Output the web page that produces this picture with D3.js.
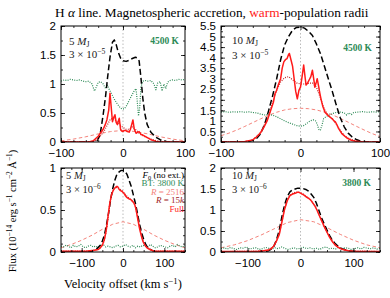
<!DOCTYPE html>
<html>
<head>
<meta charset="utf-8">
<script src="https://d3js.org/d3.v7.min.js"></script>
<style>
  body { margin: 0; background: #fff; }
  svg { display: block; font-family: "Liberation Serif", "Times New Roman", serif; }
</style>
</head>
<body>
<svg width="390" height="298"></svg>
<script>
// ---- data (velocity km/s, flux 1e-14 erg/s/cm2/A) ----
// top left: 5 MJ, 3e-5
var tlF0 = [[-100,0],[-50,0],[-42,0.02],[-37,0.12],[-32,0.47],[-28,0.8],[-25,1.1],[-21,1.46],[-17,1.72],[-14,1.76],[-11,1.68],[-8,1.56],[-4,1.45],[0,1.4],[5,1.39],[10,1.41],[15,1.44],[20,1.46],[23,1.45],[26,1.4],[29,1.1],[32,0.75],[35,0.5],[39,0.3],[45,0.17],[52,0.09],[60,0.04],[70,0.01],[80,0],[100,0]];
var tlFull = [[-100,0],[-55,0],[-48,0.02],[-44,0.06],[-40,0.1],[-36,0.16],[-32,0.22],[-29,0.29],[-26,0.38],[-23,0.55],[-21,0.84],[-19,0.6],[-17,0.35],[-15,0.42],[-13,0.47],[-11,0.34],[-9,0.3],[-7,0.38],[-6,0.41],[-4,0.22],[-2,0.19],[0,0.18],[2,0.2],[4,0.2],[7,0.18],[10,0.17],[12,0.22],[14,0.3],[16,0.38],[18,0.23],[21,0.15],[24,0.17],[26,0.18],[29,0.13],[32,0.12],[35,0.1],[37,0.09],[40,0.07],[42,0.06],[45,0.04],[48,0.03],[53,0.01],[60,0],[100,0]];
var tl15k = [[-100,0],[-50,0],[-40,0.05],[-30,0.2],[-25,0.3],[-20,0.4],[-15,0.4],[-10,0.35],[-5,0.3],[0,0.25],[5,0.22],[10,0.22],[15,0.26],[20,0.22],[25,0.16],[30,0.12],[40,0.07],[50,0.03],[60,0.01],[70,0],[100,0]];
var tl2516 = [[-100,0.02],[-80,0.05],[-60,0.09],[-40,0.14],[-20,0.18],[0,0.2],[20,0.18],[40,0.14],[60,0.09],[80,0.05],[100,0.02]];
var tlBT = [[-100,1.05],[-95,1.07],[-90,1.06],[-85,1.08],[-80,1.07],[-75,1.06],[-70,1.07],[-65,1.05],[-60,1.04],[-55,1.05],[-50,1.0],[-46,0.88],[-43,0.95],[-40,1.03],[-36,1.04],[-32,1.0],[-28,0.92],[-25,0.98],[-22,0.9],[-18,0.82],[-14,0.74],[-10,0.67],[-6,0.61],[-2,0.57],[2,0.57],[6,0.63],[10,0.72],[14,0.8],[18,0.88],[21,0.92],[23,0.7],[25,0.45],[27,0.6],[29,0.95],[32,1.05],[36,1.06],[40,1.05],[45,1.06],[50,1.0],[53,0.9],[56,1.02],[60,1.04],[63,0.88],[66,1.0],[69,0.92],[72,1.03],[76,1.06],[80,1.07],[85,1.06],[90,1.08],[95,1.07],[100,1.08]];

// top right: 10 MJ, 3e-5
var trF0 = [[-100,0],[-75,0],[-65,0.03],[-60,0.08],[-55,0.18],[-50,0.4],[-45,0.85],[-40,1.5],[-35,2.2],[-30,3.0],[-25,3.9],[-20,4.6],[-15,5.0],[-10,5.3],[-5,5.43],[0,5.45],[5,5.4],[10,5.25],[15,5.05],[20,4.65],[25,4.2],[30,3.6],[35,3.0],[40,2.4],[45,1.75],[50,1.15],[55,0.72],[60,0.42],[65,0.24],[70,0.12],[75,0.05],[80,0.02],[90,0],[100,0]];
var trFull = [[-100,0],[-80,0],[-70,0.02],[-60,0.1],[-55,0.25],[-50,0.45],[-46,0.7],[-42,1.0],[-38,1.45],[-34,1.9],[-32,2.3],[-30,2.45],[-28,2.7],[-25,3.0],[-23,3.5],[-21,3.8],[-19,3.9],[-17,3.95],[-15,4.15],[-14,4.2],[-12,3.9],[-10,3.6],[-8,3.0],[-6,2.4],[-4,2.05],[-2,2.45],[0,2.6],[2,3.1],[4,3.65],[6,3.0],[7,2.7],[9,2.8],[11,2.95],[13,3.1],[15,3.4],[17,2.9],[18,2.6],[20,2.85],[21,3.0],[23,2.6],[24,2.37],[26,2.0],[28,1.7],[31,1.4],[35,1.25],[38,1.15],[40,1.1],[42,1.0],[44,0.95],[46,0.8],[48,0.63],[52,0.4],[58,0.2],[64,0.08],[70,0.03],[80,0],[100,0]];
var tr15k = [[-100,0],[-70,0.02],[-60,0.1],[-50,0.45],[-40,1.25],[-35,1.9],[-30,2.45],[-25,2.85],[-20,3.05],[-15,3.1],[-10,2.95],[-5,2.8],[0,2.75],[5,2.75],[10,2.78],[15,2.8],[20,2.6],[25,2.1],[30,1.55],[35,1.25],[40,1.1],[45,0.85],[50,0.55],[55,0.32],[60,0.17],[70,0.04],[80,0],[100,0]];
var tr2516 = [[-100,0.3],[-90,0.42],[-80,0.57],[-70,0.74],[-60,0.92],[-50,1.1],[-40,1.27],[-30,1.41],[-20,1.52],[-10,1.58],[0,1.6],[10,1.58],[20,1.52],[30,1.42],[40,1.29],[50,1.12],[60,0.94],[70,0.75],[80,0.57],[90,0.4],[100,0.26]];
var trBT = [[-100,1.42],[-95,1.44],[-90,1.41],[-85,1.43],[-80,1.42],[-75,1.44],[-70,1.41],[-65,1.43],[-60,1.4],[-55,1.38],[-50,1.32],[-45,1.28],[-40,1.3],[-35,1.27],[-30,1.2],[-25,1.1],[-20,1.0],[-15,0.92],[-10,0.85],[-5,0.78],[0,0.75],[4,0.78],[8,0.88],[12,1.0],[16,1.05],[19,1.0],[21,0.85],[23,0.6],[25,0.55],[27,0.8],[29,1.1],[32,1.2],[36,1.28],[40,1.35],[45,1.4],[50,1.42],[55,1.38],[58,1.28],[61,1.38],[64,1.3],[67,1.4],[72,1.42],[78,1.44],[84,1.41],[90,1.43],[95,1.42],[100,1.44]];

// bottom left: 5 MJ, 3e-6
var blF0 = [[-150,0],[-90,0],[-75,0.01],[-65,0.03],[-55,0.08],[-50,0.13],[-45,0.2],[-40,0.32],[-35,0.46],[-30,0.62],[-25,0.75],[-20,0.85],[-15,0.92],[-10,0.95],[-5,0.97],[0,0.97],[5,0.96],[10,0.92],[15,0.85],[20,0.78],[25,0.68],[30,0.58],[35,0.46],[40,0.33],[45,0.23],[50,0.15],[55,0.09],[60,0.05],[70,0.02],[80,0],[150,0]];
var blFull = [[-150,0.01],[-90,0.01],[-70,0.02],[-60,0.03],[-55,0.05],[-50,0.08],[-45,0.15],[-42,0.22],[-38,0.35],[-35,0.47],[-32,0.58],[-28,0.68],[-24,0.73],[-20,0.76],[-16,0.78],[-13,0.78],[-10,0.75],[-6,0.73],[-2,0.72],[2,0.7],[6,0.67],[9,0.65],[12,0.64],[16,0.63],[20,0.62],[24,0.6],[28,0.57],[31,0.52],[34,0.44],[37,0.36],[40,0.28],[44,0.2],[48,0.13],[53,0.08],[58,0.05],[65,0.03],[75,0.01],[150,0.01]];
var bl15k = [[-150,0.01],[-90,0.01],[-70,0.02],[-60,0.03],[-50,0.08],[-45,0.14],[-40,0.27],[-35,0.45],[-30,0.62],[-25,0.72],[-20,0.76],[-15,0.77],[-10,0.76],[-5,0.74],[0,0.72],[5,0.69],[10,0.66],[15,0.64],[20,0.62],[25,0.59],[30,0.54],[35,0.43],[40,0.3],[45,0.19],[50,0.11],[55,0.07],[65,0.03],[75,0.01],[150,0.01]];
var bl2516 = [[-150,0.05],[-125,0.09],[-100,0.14],[-75,0.2],[-50,0.27],[-25,0.33],[0,0.36],[25,0.33],[50,0.27],[75,0.2],[100,0.14],[125,0.09],[150,0.05]];
var blBT = [0.07,0.06,0.08,0.07,0.05,0.08,0.06,0.07,0.09,0.06,0.05,0.07,0.08,0.06,0.07,0.05,0.08,0.09,0.06,0.07,0.06,0.05,0.07,0.08,0.06,0.07,0.09,0.07,0.06,0.08,0.05,0.07,0.06,0.08,0.07,0.06,0.09,0.07,0.05,0.06,0.08,0.07,0.06,0.05,0.07,0.08,0.06,0.09,0.07,0.06,0.08];

// bottom right: 10 MJ, 3e-6
var brF0 = [[-150,0],[-80,0],[-70,0.01],[-60,0.03],[-55,0.07],[-50,0.14],[-45,0.3],[-40,0.52],[-35,0.85],[-30,1.12],[-25,1.32],[-20,1.43],[-15,1.48],[-10,1.5],[-5,1.52],[0,1.52],[5,1.51],[10,1.49],[15,1.45],[20,1.38],[25,1.3],[30,1.16],[35,0.98],[40,0.8],[45,0.66],[50,0.52],[55,0.39],[60,0.28],[65,0.21],[70,0.15],[75,0.1],[80,0.07],[90,0.03],[100,0.01],[110,0],[150,0]];
var brFull = [[-150,0.01],[-100,0.01],[-80,0.02],[-70,0.03],[-60,0.05],[-55,0.08],[-50,0.15],[-45,0.27],[-40,0.42],[-35,0.72],[-30,1.02],[-25,1.22],[-20,1.34],[-15,1.38],[-10,1.4],[-6,1.42],[-3,1.42],[0,1.4],[3,1.38],[6,1.36],[9,1.33],[12,1.3],[15,1.28],[19,1.24],[23,1.17],[27,1.1],[31,1.0],[35,0.88],[40,0.74],[45,0.6],[50,0.47],[55,0.35],[60,0.25],[65,0.17],[70,0.12],[75,0.08],[80,0.06],[90,0.03],[100,0.02],[150,0.01]];
var br15k = [[-150,0.01],[-80,0.02],[-70,0.03],[-60,0.05],[-50,0.15],[-45,0.28],[-40,0.45],[-35,0.74],[-30,1.03],[-25,1.24],[-20,1.35],[-15,1.4],[-10,1.42],[-5,1.43],[0,1.41],[5,1.38],[10,1.33],[15,1.29],[20,1.23],[25,1.14],[30,1.03],[35,0.89],[40,0.75],[45,0.61],[50,0.48],[55,0.36],[60,0.26],[65,0.18],[70,0.12],[80,0.06],[90,0.03],[150,0.01]];
var br2516 = [[-150,0.1],[-125,0.17],[-100,0.27],[-75,0.4],[-50,0.55],[-25,0.7],[0,0.77],[25,0.72],[50,0.58],[75,0.42],[100,0.28],[125,0.17],[150,0.1]];
var brBT = [0.08,0.1,0.07,0.11,0.08,0.06,0.1,0.09,0.12,0.07,0.09,0.1,0.06,0.08,0.11,0.09,0.07,0.1,0.08,0.12,0.09,0.06,0.08,0.1,0.07,0.09,0.11,0.08,0.1,0.07,0.09,0.06,0.1,0.12,0.08,0.09,0.07,0.11,0.08,0.1,0.09,0.06,0.08,0.1,0.07,0.11,0.09,0.08,0.1,0.07,0.09];
var btVel = d3.range(-150, 151, 6);  // velocity grid of the noisy 3800 K spectra

var xTicksTop = [-100, 0, 100];
var xTicksBottom = [-100, 0, 100];
var yTicksTL = [0, 0.5, 1, 1.5, 2];
var yTicksTR = [0, 0.5, 1, 1.5, 2, 2.5, 3, 3.5, 4, 4.5, 5, 5.5];
var yTicksBL = [0, 0.5, 1];
var yTicksBR = [0, 0.5, 1, 1.5, 2];

// ---- styles ----
var C = {
  full: "#ff1a1a", r15k: "#c02020", r2516: "#f4847c",
  bt: "#2e8b57", f0: "#000000", zero: "#bbbbbb"
};

var svg = d3.select("svg");
var fmt = d3.format("~g");

function rich(sel, parts, fs) {
  // parts: [text, kind] kind: undefined | "sup" | "sub" | "it"
  var dy = 0;
  parts.forEach(function(p) {
    var t = sel.append("tspan").text(p[0]);
    var shift = 0;
    if (p[1] == "sup") shift = -fs * 0.35;
    if (p[1] == "sub") shift = fs * 0.2;
    if (p[1] == "it") t.attr("font-style", "italic");
    if (p[1] == "sup" || p[1] == "sub") t.attr("font-size", fs * 0.7);
    t.attr("dy", shift - dy);
    dy = shift;
  });
  return sel;
}

var panels = [
  { id: "tl", x0: 61, x1: 185, y0: 26, y1: 142, xd: [-100, 100], yd: [0, 2],
    xt: xTicksTop, xm: 20, yt: yTicksTL, ym: 0.25,
    f0: tlF0, full: tlFull, r15k: tl15k, r2516: tl2516, bt: tlBT,
    mass: "5", acc: "−5", temp: "4500 K", fs: 11,
    massPos: [8, 19], accPos: [8, 32], tempPos: [-6, 18] },
  { id: "tr", x0: 221, x1: 380, y0: 26, y1: 142, xd: [-100, 100], yd: [0, 5.5],
    xt: xTicksTop, xm: 20, yt: yTicksTR, ym: 0.25,
    f0: trF0, full: trFull, r15k: tr15k, r2516: tr2516, bt: trBT,
    mass: "10", acc: "−5", temp: "4500 K", fs: 11,
    massPos: [11, 18], accPos: [11, 33], tempPos: [-8, 25] },
  { id: "bl", x0: 61, x1: 185, y0: 168, y1: 252, xd: [-150, 150], yd: [0, 1],
    xt: xTicksBottom, xm: 25, yt: yTicksBL, ym: 0.1,
    f0: blF0, full: blFull, r15k: bl15k, r2516: bl2516, bt: btVel.map(function(v, i) { return [v, blBT[i]]; }),
    mass: "5", acc: "−6", temp: null, fs: 10.5,
    massPos: [5, 11], accPos: [5, 24.5] },
  { id: "br", x0: 221, x1: 380, y0: 168, y1: 252, xd: [-150, 150], yd: [0, 2],
    xt: xTicksBottom, xm: 25, yt: yTicksBR, ym: 0.25,
    f0: brF0, full: brFull, r15k: br15k, r2516: br2516, bt: btVel.map(function(v, i) { return [v, brBT[i]]; }),
    mass: "10", acc: "−6", temp: "3800 K", fs: 10.5,
    massPos: [11, 11], accPos: [11, 24.5], tempPos: [-9, 18] }
];

var defs = svg.append("defs");

panels.forEach(function(p) {
  var x = d3.scaleLinear().domain(p.xd).range([p.x0, p.x1]);
  var y = d3.scaleLinear().domain(p.yd).range([p.y1, p.y0]);
  var g = svg.append("g");

  defs.append("clipPath").attr("id", "clip-" + p.id)
    .append("rect").attr("x", p.x0).attr("y", p.y0)
    .attr("width", p.x1 - p.x0).attr("height", p.y1 - p.y0);

  var plot = g.append("g").attr("clip-path", "url(#clip-" + p.id + ")");

  plot.append("line")
    .attr("x1", x(0)).attr("x2", x(0)).attr("y1", p.y0).attr("y2", p.y1)
    .attr("stroke", C.zero).attr("stroke-width", 1).attr("stroke-dasharray", "1.5,2");

  var line = d3.line().x(function(d) { return x(d[0]); }).y(function(d) { return y(d[1]); });

  var series = [
    { d: p.r2516, c: C.r2516, w: 1, dash: "3.5,2.5" },
    { d: p.bt, c: C.bt, w: 1.2, dash: "1,1.3" },
    { d: p.f0, c: C.f0, w: 1.5, dash: "6,3" },
    { d: p.r15k, c: C.r15k, w: 1.2, dash: "1,1.3" },
    { d: p.full, c: C.full, w: 1.5, dash: null }
  ];
  series.forEach(function(s) {
    plot.append("path").datum(s.d).attr("d", line)
      .attr("fill", "none").attr("stroke", s.c).attr("stroke-width", s.w)
      .attr("stroke-dasharray", s.dash).attr("stroke-linejoin", "round");
  });

  // ticks (inward, all four sides)
  var xMinor = d3.range(p.xd[0], p.xd[1] + 0.001, p.xm);
  var yMinor = d3.range(p.yd[0], p.yd[1] + 0.0001, p.ym);

  var axB = g.append("g").attr("transform", "translate(0," + p.y1 + ")")
    .call(d3.axisBottom(x).tickValues(p.xt).tickSize(-4).tickPadding(7).tickFormat(fmt));
  g.append("g").attr("transform", "translate(0," + p.y1 + ")")
    .call(d3.axisBottom(x).tickValues(xMinor).tickSize(-2).tickFormat(""));
  g.append("g").attr("transform", "translate(0," + p.y0 + ")")
    .call(d3.axisTop(x).tickValues(p.xt).tickSize(-4).tickFormat(""));
  g.append("g").attr("transform", "translate(0," + p.y0 + ")")
    .call(d3.axisTop(x).tickValues(xMinor).tickSize(-2).tickFormat(""));

  g.append("g").attr("transform", "translate(" + p.x0 + ",0)")
    .call(d3.axisLeft(y).tickValues(p.yt).tickSize(-4).tickPadding(5).tickFormat(fmt));
  g.append("g").attr("transform", "translate(" + p.x0 + ",0)")
    .call(d3.axisLeft(y).tickValues(yMinor).tickSize(-2).tickFormat(""));
  g.append("g").attr("transform", "translate(" + p.x1 + ",0)")
    .call(d3.axisRight(y).tickValues(p.yt).tickSize(-4).tickFormat(""));
  g.append("g").attr("transform", "translate(" + p.x1 + ",0)")
    .call(d3.axisRight(y).tickValues(yMinor).tickSize(-2).tickFormat(""));

  g.selectAll(".domain").remove();
  g.selectAll(".tick line").attr("stroke", "#000").attr("stroke-width", 0.8);
  g.selectAll(".tick text").attr("font-family", null).attr("font-size", 11.5).attr("fill", "#000");
  axB.selectAll(".tick text").attr("dy", "0.71em");

  g.append("rect").attr("x", p.x0).attr("y", p.y0)
    .attr("width", p.x1 - p.x0).attr("height", p.y1 - p.y0)
    .attr("fill", "none").attr("stroke", "#000").attr("stroke-width", 1);

  // annotations
  var mt = g.append("text").attr("x", p.x0 + p.massPos[0]).attr("y", p.y0 + p.massPos[1])
    .attr("font-size", p.fs).attr("fill", "#222");
  rich(mt, [[p.mass + " "], ["M", "it"], ["J", "sub"]], p.fs);
  var at = g.append("text").attr("x", p.x0 + p.accPos[0]).attr("y", p.y0 + p.accPos[1])
    .attr("font-size", p.fs).attr("fill", "#222");
  rich(at, [["3 × 10"], [p.acc, "sup"]], p.fs);
  if (p.temp) {
    g.append("text").attr("x", p.x1 + p.tempPos[0]).attr("y", p.y0 + p.tempPos[1])
      .attr("text-anchor", "end").attr("font-size", 9.5).attr("font-weight", "bold")
      .attr("fill", C.bt).text(p.temp);
  }

  if (p.id == "bl") {
    var lg = [
      { parts: [["F", "it"], ["0", "sub"], [" (no ext.)"]], c: "#000" },
      { parts: [["BT: 3800 K"]], c: C.bt },
      { parts: [["R", "it"], [" = 2516"]], c: C.r2516 },
      { parts: [["R", "it"], [" = 15"], ["k", "it"]], c: "#a02020" },
      { parts: [["Full"]], c: C.full }
    ];
    lg.forEach(function(item, i) {
      var t = g.append("text").attr("x", p.x1 - 1).attr("y", p.y0 + 10 + i * 8.4)
        .attr("text-anchor", "end").attr("font-size", 9).attr("fill", item.c);
      rich(t, item.parts, 9);
    });
  }
});

// title
var title = svg.append("text").attr("x", 55).attr("y", 17).attr("font-size", 13.3).attr("fill", "#000");
title.append("tspan").text("H ");
title.append("tspan").attr("font-style", "italic").text("α");
title.append("tspan").text(" line. Magnetospheric accretion, ");
title.append("tspan").attr("fill", "#ff1a1a").text("warm");
title.append("tspan").text("-population radii");

// x label
var xl = svg.append("text").attr("x", 123).attr("y", 288).attr("text-anchor", "middle").attr("font-size", 12.5);
rich(xl, [["Velocity offset (km s"], ["−1", "sup"], [")"]], 12.5);

// y label
var yl = svg.append("text").attr("transform", "translate(16,211) rotate(-90)")
  .attr("text-anchor", "middle").attr("font-size", 10.5);
rich(yl, [["Flux (10"], ["−14", "sup"], [" erg s"], ["−1", "sup"], [" cm"], ["−2", "sup"], [" Å"], ["−1", "sup"], [")"]], 10.5);
</script>
</body>
</html>
